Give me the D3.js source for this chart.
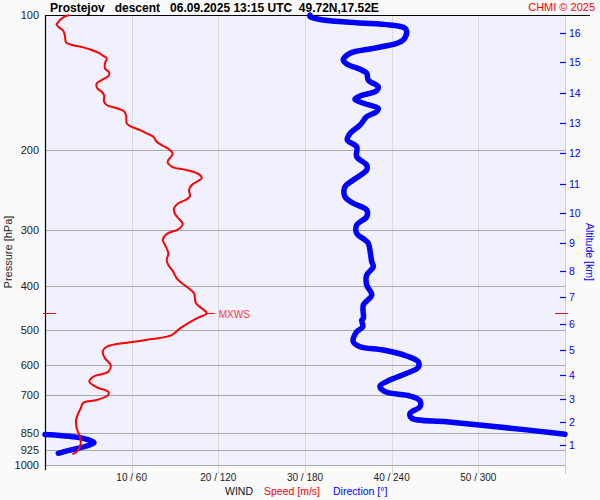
<!DOCTYPE html>
<html><head><meta charset="utf-8">
<script src="https://cdn.jsdelivr.net/npm/d3@7"></script>
<style>
html,body{margin:0;padding:0;background:#fafafa;}
svg{display:block;font-family:"Liberation Sans",Arial,sans-serif;}
</style>
</head><body>
<svg id="c" width="600" height="500"></svg>
<script>
const titleText = "Prostejov   descent   06.09.2025 13:15 UTC  49.72N,17.52E";
const creditText = "CHMI © 2025";
const pressureTicks = [100, 200, 300, 400, 500, 600, 700, 850, 925, 1000];
const windTicks = [10, 20, 30, 40, 50];
const windTickLabels = ["10 / 60", "20 / 120", "30 / 180", "40 / 240", "50 / 300"];
const altKm = [1, 2, 3, 4, 5, 6, 7, 8, 9, 10, 11, 12, 13, 14, 15, 16];
const altPressure = [902.6, 801.1, 712.4, 631, 555.2, 485.3, 422.7, 371.2, 320.6, 275.8, 237.1, 203, 173.5, 149.3, 127.4, 109.5];

const speedPressure = [100, 101.2, 104.3, 105.2, 107.0, 108.4, 111.7, 115.0, 116.2, 117.2, 118.0, 119.6, 121.3, 123.3, 124.8, 128.0, 131.4, 134.4, 136.7, 139.5, 141.9, 145.5, 148.1, 150.6, 155.8, 158.5, 161.2, 163.2, 166.8, 174.1, 176.5, 180.2, 183.2, 186.4, 191.3, 195.5, 199.5, 203.7, 210.0, 213.0, 218.0, 220.3, 223.0, 226.8, 230.7, 233.5, 238.7, 244.9, 252.5, 256.8, 262.1, 268.9, 276.9, 285.5, 291.4, 299.4, 306.7, 316.2, 324.4, 338.5, 350.3, 359.4, 371.9, 384.7, 396.7, 407.0, 415.4, 437.2, 448.6, 460.2, 472.1, 496.9, 514.3, 525.7, 533.9, 546.0, 560.2, 579.4, 599.6, 620.5, 636.5, 653.0, 672.0, 687.3, 699.0, 717.1, 727.1, 748.2, 767.7, 794.3, 828.6, 857.6, 879.8, 910.5, 934.1, 946.6];
const speedValues = [2.80, 2.11, 1.42, 1.35, 1.73, 2.11, 2.31, 2.42, 2.88, 3.66, 4.42, 5.39, 6.15, 6.73, 7.12, 6.92, 6.92, 7.42, 7.30, 6.54, 5.97, 6.03, 6.54, 6.81, 6.81, 7.12, 8.27, 9.03, 9.35, 9.43, 9.81, 10.96, 11.73, 12.50, 12.89, 13.65, 14.42, 14.73, 14.23, 14.16, 14.80, 15.96, 17.11, 17.88, 18.08, 17.69, 16.93, 16.62, 16.73, 16.35, 15.38, 14.88, 15.0, 15.58, 15.89, 15.38, 14.04, 13.58, 13.85, 14.23, 14.04, 14.23, 14.80, 15.20, 15.96, 16.73, 17.19, 17.42, 18.08, 18.66, 17.50, 15.58, 14.62, 12.12, 9.81, 7.12, 6.66, 6.92, 7.58, 7.30, 5.57, 5.11, 5.97, 7.30, 7.30, 5.97, 4.42, 4.12, 3.84, 3.58, 3.66, 3.96, 4.12, 4.04, 3.66, 3.17];

const dirPressure = [100, 100.9, 102.6, 104.0, 105.2, 107.0, 108.9, 113.6, 115.6, 118.6, 121.6, 125.9, 128.5, 132.0, 134.7, 139.5, 144.3, 147.3, 151.4, 153.9, 157.1, 161.2, 164.0, 168.3, 175.6, 183.2, 189.6, 196.2, 206.5, 215.4, 221.1, 232.6, 240.8, 253.4, 262.1, 271.3, 280.7, 292.9, 305.6, 316.2, 321.6, 353.4, 362.6, 378.4, 398.1, 419.1, 441.0, 472.1, 476.2, 492.9, 505.7, 532.1, 546.0, 555.3, 572.6, 589.6, 606.8, 625.6, 647.4, 667.6, 687.3, 702.6, 719.6, 742.0, 767.7, 787.4, 801.2, 822.0, 853.2, 854.3, 855.4, 865.1, 876.7, 892.1, 907.3, 922.8, 941.9];
const dirValues = [183.5, 183.5, 192.7, 215.8, 238.8, 249.2, 250.4, 248.1, 243.5, 227.3, 211.2, 206.5, 208.9, 218.1, 222.7, 223.8, 230.7, 229.6, 218.1, 214.6, 220.4, 230.7, 229.6, 222.7, 218.1, 211.2, 209.3, 215.8, 215.8, 222.7, 222.7, 213.4, 207.7, 207.7, 213.4, 222.7, 222.7, 215.8, 215.8, 221.5, 223.8, 226.2, 227.3, 222.7, 222.7, 226.2, 220.4, 220.4, 219.3, 220.0, 215.8, 213.4, 218.1, 234.2, 250.4, 258.4, 258.4, 250.4, 238.8, 231.9, 235.4, 252.7, 259.6, 259.6, 252.7, 253.9, 278.1, 312.7, 358.8, 360, 0, 19.6, 28.9, 33.9, 28.9, 19.6, 9.2];

const maxWindPressure = 460.2;
const maxWindSpeed = 18.66;

const svg = d3.select("#c");
const L = 45, R = 565, T = 15, B = 465;
const y = d3.scaleLog().domain([100, 1000]).range([T, B]);
const xs = d3.scaleLinear().domain([0, 60]).range([L, R]);
const xd = d3.scaleLinear().domain([0, 360]).range([L, R]);

svg.append("rect").attr("width", 600).attr("height", 500).attr("fill", "#fafafa");
svg.append("rect").attr("x", L).attr("y", T).attr("width", R - L).attr("height", B - T).attr("fill", "#f0f0fe");

// vertical grid lines
svg.append("g").selectAll("line").data(windTicks.concat([60])).join("line")
  .attr("x1", d => Math.round(xs(d)) + 0.5).attr("x2", d => Math.round(xs(d)) + 0.5)
  .attr("y1", T).attr("y2", B + 9)
  .attr("stroke", d => d === 60 ? "#cfcfcf" : "#dadada").attr("stroke-width", 1);

// horizontal pressure grid lines
svg.append("g").selectAll("line").data(pressureTicks.filter(d => d !== 100)).join("line")
  .attr("x1", L).attr("x2", R)
  .attr("y1", d => Math.round(y(d)) + 0.5).attr("y2", d => Math.round(y(d)) + 0.5)
  .attr("stroke", "#a8a8a8").attr("stroke-width", 1);

// left axis
svg.append("line").attr("x1", L + 0.5).attr("x2", L + 0.5).attr("y1", T).attr("y2", B + 5)
  .attr("stroke", "#000").attr("stroke-width", 1.2);
// top line
svg.append("line").attr("x1", L).attr("x2", 590).attr("y1", T + 0.5).attr("y2", T + 0.5)
  .attr("stroke", "#000").attr("stroke-width", 1.2);

// pressure labels
svg.append("g").selectAll("text").data(pressureTicks).join("text")
  .attr("x", 39).attr("y", d => y(d) + 4).attr("text-anchor", "end")
  .attr("font-size", 11).attr("fill", "#222").text(d => d);

svg.append("text").attr("transform", "translate(12,252) rotate(-90)")
  .attr("text-anchor", "middle").attr("font-size", 11).attr("fill", "#222").text("Pressure [hPa]");

// altitude ticks (right)
const ag = svg.append("g");
ag.selectAll("line").data(altKm).join("line")
  .attr("x1", 560).attr("x2", 566)
  .attr("y1", (d, i) => Math.round(y(altPressure[i])) + 0.5).attr("y2", (d, i) => Math.round(y(altPressure[i])) + 0.5)
  .attr("stroke", "#0000ff").attr("stroke-width", 1.2);
ag.selectAll("text").data(altKm).join("text")
  .attr("x", 569).attr("y", (d, i) => y(altPressure[i]) + 4)
  .attr("font-size", 10.5).attr("fill", "#0000ff").text(d => d);
svg.append("text").attr("transform", "translate(586,252) rotate(90)")
  .attr("text-anchor", "middle").attr("font-size", 10.5).attr("fill", "#0000ff").text("Altitude [km]");

// x tick labels
svg.append("g").selectAll("text").data(windTicks).join("text")
  .attr("x", d => xs(d)).attr("y", 481).attr("text-anchor", "middle")
  .attr("font-size", 10).attr("fill", "#222").text((d, i) => windTickLabels[i]);

svg.append("text").attr("x", 225).attr("y", 495).attr("font-size", 10.5).attr("fill", "#111").text("WIND");
svg.append("text").attr("x", 264).attr("y", 495).attr("font-size", 10.5).attr("fill", "#ff0000").text("Speed [m/s]");
svg.append("text").attr("x", 333).attr("y", 495).attr("font-size", 10.5).attr("fill", "#0000ff").text("Direction [°]");

// title
svg.append("text").attr("x", 50).attr("y", 12).attr("font-size", 12).attr("font-weight", "bold")
  .attr("fill", "#000").attr("xml:space", "preserve").style("white-space", "pre").text(titleText);
svg.append("text").attr("x", 595).attr("y", 11).attr("text-anchor", "end").attr("font-size", 11)
  .attr("fill", "#ff0000").text(creditText);

// direction line (split at 360/0 wrap)
const dirData = dirPressure.map((p, i) => ({ p, v: dirValues[i] }));
const segs = [[]];
dirData.forEach((d, i) => {
  if (i > 0 && Math.abs(d.v - dirData[i - 1].v) > 180) segs.push([]);
  segs[segs.length - 1].push(d);
});
const dirLine = d3.line().x(d => xd(d.v)).y(d => y(d.p)).curve(d3.curveCatmullRom.alpha(0.5));
svg.append("g").selectAll("path").data(segs).join("path")
  .attr("d", dirLine).attr("fill", "none").attr("stroke", "#0000ff")
  .attr("stroke-width", 5.5).attr("stroke-linejoin", "round").attr("stroke-linecap", "round");

// speed line
const spData = speedPressure.map((p, i) => ({ p, v: speedValues[i] }));
const spLine = d3.line().x(d => xs(d.v)).y(d => y(d.p)).curve(d3.curveCatmullRom.alpha(0.5));
svg.append("path").datum(spData).attr("d", spLine).attr("fill", "none")
  .attr("stroke", "#ff0000").attr("stroke-width", 2).attr("stroke-linejoin", "round");

// max wind markers
const my = Math.round(y(maxWindPressure)) + 0.5;
svg.append("line").attr("x1", 43).attr("x2", 56).attr("y1", my).attr("y2", my).attr("stroke", "#ff0000");
svg.append("line").attr("x1", 555).attr("x2", 568).attr("y1", my).attr("y2", my).attr("stroke", "#ff0000");
svg.append("line").attr("x1", xs(maxWindSpeed)).attr("x2", xs(maxWindSpeed) + 8).attr("y1", my).attr("y2", my).attr("stroke", "#ff0000");
svg.append("text").attr("x", xs(maxWindSpeed) + 12).attr("y", my + 4).attr("font-size", 10)
  .attr("fill", "#ff4040").text("MXWS");
</script>
</body></html>
